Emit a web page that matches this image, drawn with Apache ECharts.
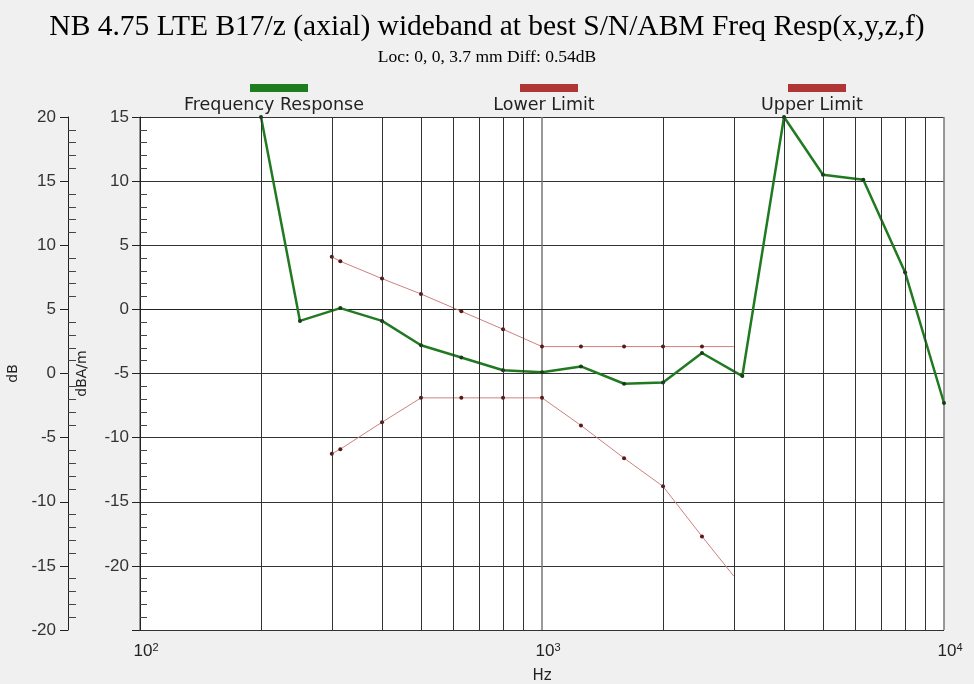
<!DOCTYPE html>
<html>
<head>
<meta charset="utf-8">
<script src="https://cdn.jsdelivr.net/npm/echarts@6/dist/echarts.min.js"></script>
<style>
  html, body { margin: 0; padding: 0; background: #f0f0f0; }
  #chart { width: 974px; height: 684px; }
</style>
</head>
<body>
<div id="chart"></div>
<script>
// frequency response (dBA/m, inner axis)
const respFreq = [200, 250, 315, 400, 500, 630, 800, 1000, 1250, 1600, 2000, 2500, 3150, 4000, 5000, 6300, 8000, 10000];
const respVal = [15, -0.9, 0.1, -0.9, -2.8, -3.75, -4.75, -4.9, -4.45, -5.8, -5.7, -3.4, -5.2, 15, 10.5, 10.1, 2.9, -7.3];

// limit masks
const limitFreq = [300, 315, 400, 500, 630, 800, 1000, 1250, 1600, 2000, 2500, 3000];
const upperVal = [4.1, 3.75, 2.4, 1.2, -0.15, -1.55, -2.9, -2.9, -2.9, -2.9, -2.9, -2.9];
const lowerVal = [-11.25, -10.9, -8.8, -6.9, -6.9, -6.9, -6.9, -9.05, -11.6, -13.8, -17.7, -20.8];

// log grid lines between decades
const minorFreqs = [200, 300, 400, 500, 600, 700, 800, 900, 2000, 3000, 4000, 5000, 6000, 7000, 8000, 9000];
const supers = { 100: '2', 1000: '3', 10000: '4' };

const legendNames = ['Frequency Response', 'Lower Limit', 'Upper Limit'];
const legendColors = ['#1e7d1e', '#b03636', '#b03636'];
const legendLeft = [245, 515, 783];

function pairs(xs, ys, lastNoSymbol) {
    return xs.map(function (x, i) {
        if (lastNoSymbol && i === xs.length - 1) {
            return { value: [x, ys[i]], symbol: 'none' };
        }
        return [x, ys[i]];
    });
}

const chart = echarts.init(document.getElementById('chart'));

const option = {
    backgroundColor: '#f0f0f0',
    animation: false,
    title: [{
        text: 'NB 4.75 LTE B17/z (axial) wideband at best S/N/ABM Freq Resp(x,y,z,f)',
        left: 'center',
        top: 7,
        textStyle: { fontFamily: 'Liberation Serif', fontSize: 29.5, fontWeight: 'normal', color: '#000' }
    }, {
        text: 'Loc: 0, 0, 3.7 mm Diff: 0.54dB',
        left: 'center',
        top: 43,
        textStyle: { fontFamily: 'Liberation Serif', fontSize: 17.5, fontWeight: 'normal', color: '#000' }
    }],
    legend: legendNames.map(function (n, i) {
        return {
            data: [{ name: n, itemStyle: { color: legendColors[i] } }],
            left: legendLeft[i],
            top: 77,
            icon: 'rect',
            itemWidth: 58,
            itemHeight: 8,
            selectedMode: false,
            formatter: function () { return ' '; }
        };
    }),
    graphic: legendNames.map(function (n, i) {
        return {
            type: 'text',
            x: legendLeft[i] + 29,
            y: 96,
            style: {
                text: n,
                textAlign: 'center',
                fontFamily: 'DejaVu Sans',
                fontSize: 17.5,
                fill: '#222'
            }
        };
    }),
    grid: {
        left: 140,
        right: 30,
        top: 117,
        bottom: 54,
        outerBoundsMode: 'none',
        show: true,
        backgroundColor: '#ffffff',
        borderWidth: 0
    },
    xAxis: {
        type: 'log',
        logBase: 10,
        min: 100,
        max: 10000,
        name: 'Hz',
        nameLocation: 'middle',
        nameGap: 39,
        nameTextStyle: { fontFamily: 'DejaVu Sans', fontSize: 15, color: '#222' },
        axisLine: { lineStyle: { color: '#222' } },
        axisTick: { show: false },
        axisLabel: {
            margin: 12,
            padding: [0, 0, 0, 12],
            formatter: function (v) {
                return '{b|10}{s|' + (supers[Math.round(v)] || '') + '}';
            },
            rich: {
                b: { fontFamily: 'Liberation Sans', fontSize: 17, color: '#222' },
                s: { fontFamily: 'Liberation Sans', fontSize: 11, color: '#222', verticalAlign: 'top', padding: [0, 0, 8, 0] }
            }
        },
        splitLine: { show: true, lineStyle: { color: '#777', width: 1.5 } }
    },
    yAxis: [{
        type: 'value',
        position: 'left',
        min: -25,
        max: 15,
        interval: 5,
        name: 'dBA/m',
        nameLocation: 'middle',
        nameGap: 51,
        nameTextStyle: { fontFamily: 'DejaVu Sans', fontSize: 14, color: '#222' },
        axisLine: { show: true, lineStyle: { color: '#222' } },
        axisTick: { show: true, length: 8, lineStyle: { color: '#222' } },
        minorTick: { show: true, splitNumber: 5, length: -7, lineStyle: { color: '#444' } },
        axisLabel: { showMinLabel: false, margin: 11, fontFamily: 'Liberation Sans', fontSize: 17, color: '#333' },
        splitLine: { show: true, lineStyle: { color: '#333', width: 1 } }
    }, {
        type: 'value',
        position: 'left',
        offset: 72,
        min: -20,
        max: 20,
        interval: 5,
        name: 'dB',
        nameLocation: 'middle',
        nameGap: 48,
        nameTextStyle: { fontFamily: 'DejaVu Sans', fontSize: 14, color: '#222' },
        axisLine: { show: true, lineStyle: { color: '#222' } },
        axisTick: { show: true, length: 8, lineStyle: { color: '#222' } },
        minorTick: { show: true, splitNumber: 5, length: -8, lineStyle: { color: '#444' } },
        axisLabel: { margin: 12, fontFamily: 'Liberation Sans', fontSize: 17, color: '#333' },
        splitLine: { show: false }
    }],
    series: [{
        name: 'grid',
        type: 'line',
        data: [],
        silent: true,
        z: 1,
        markLine: {
            silent: true,
            symbol: ['none', 'none'],
            label: { show: false },
            lineStyle: { color: '#333', width: 1, type: 'solid' },
            data: minorFreqs.map(function (f) { return { xAxis: f }; })
        }
    }, {
        name: 'Lower Limit',
        type: 'line',
        z: 3,
        data: pairs(limitFreq, lowerVal, true),
        symbol: 'circle',
        symbolSize: 4,
        lineStyle: { color: '#d08080', width: 1 },
        itemStyle: { color: '#5a1818', borderWidth: 0 }
    }, {
        name: 'Upper Limit',
        type: 'line',
        z: 3,
        data: pairs(limitFreq, upperVal, true),
        symbol: 'circle',
        symbolSize: 4,
        lineStyle: { color: '#d08080', width: 1 },
        itemStyle: { color: '#5a1818', borderWidth: 0 }
    }, {
        name: 'Frequency Response',
        type: 'line',
        z: 4,
        clip: true,
        data: pairs(respFreq, respVal, false),
        symbol: 'circle',
        symbolSize: 4,
        lineStyle: { color: '#217a21', width: 2.5 },
        itemStyle: { color: '#1a3a1a', borderWidth: 0 }
    }]
};

chart.setOption(option);
</script>
</body>
</html>
